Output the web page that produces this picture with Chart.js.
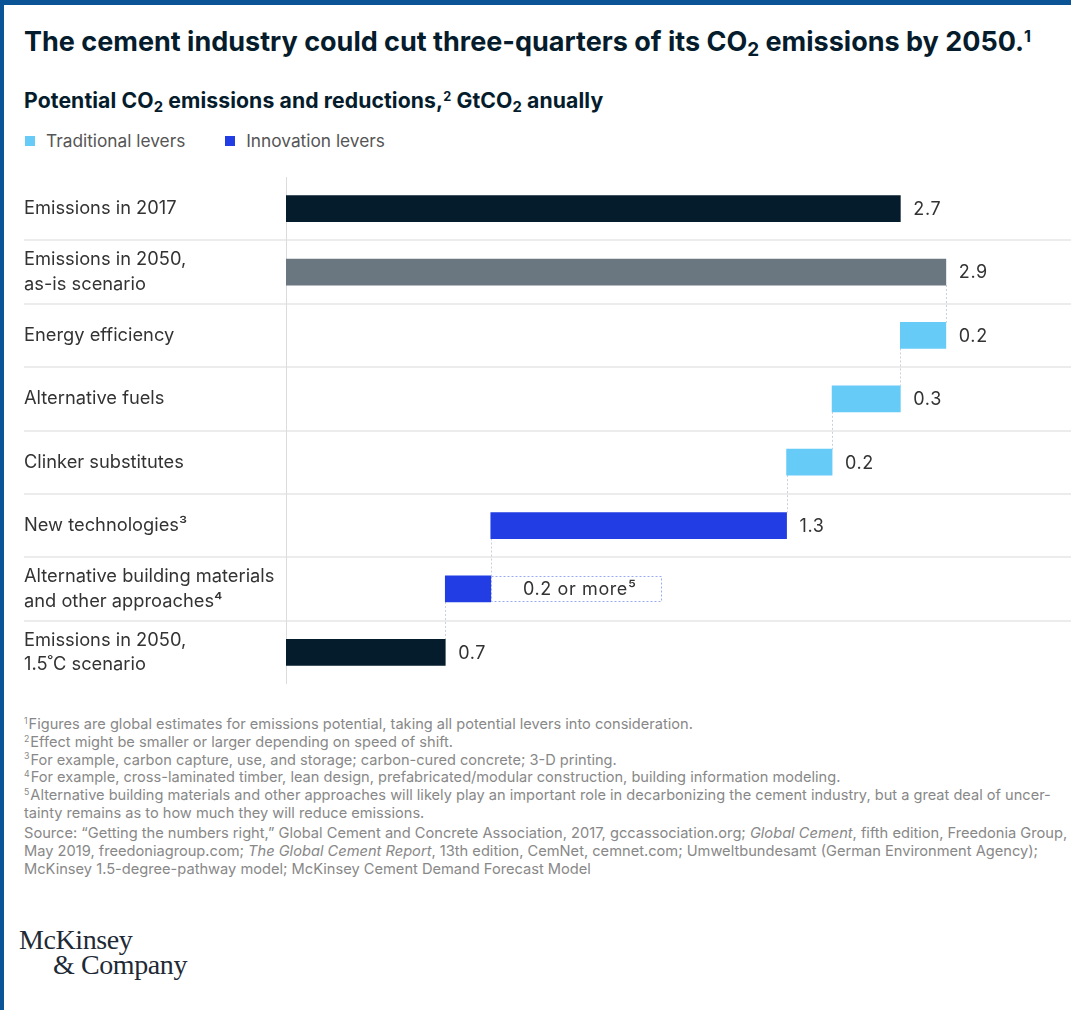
<!DOCTYPE html>
<html lang="en">
<head>
<meta charset="utf-8">
<script src="https://cdn.jsdelivr.net/npm/chart.js"></script>
<style>
  html, body { margin: 0; background: #fff; overflow: hidden; }
  .frame {
    position: relative; width: 1071px; height: 1010px; box-sizing: border-box;
    border-top: 5px solid #0b5596; border-left: 4px solid #0b5596;
    font-family: Inter, "Noto Sans", sans-serif; color: #051c2c;
  }
  .title { position: absolute; left: 20px; top: 20px; font-size: 27px; font-weight: 700; white-space: nowrap; }
  .subtitle { position: absolute; left: 20px; top: 82px; font-size: 21.2px; font-weight: 700; white-space: nowrap; letter-spacing: 0.1px; }
  sub { font-size: 0.7em; vertical-align: -0.25em; line-height: 0; }
  sup { font-size: 0.6em; vertical-align: 0.55em; line-height: 0; }
  .legend { position: absolute; left: 21px; top: 125px; font-size: 17.3px; color: #555; white-space: nowrap; }
  .legend span.sw { display: inline-block; width: 10px; height: 10px; margin-right: 11px; vertical-align: 1px; }
  .legend span.item { margin-right: 35px; }
  .chartbox { position: absolute; left: -4px; top: 160px; width: 1071px; height: 530px; }
  .notes { position: absolute; left: 20px; top: 711px; font-size: 14.6px; line-height: 17.8px; color: #888; white-space: nowrap; }
  .notes sup { font-size: 0.6em; vertical-align: 0.6em; margin-right: 1px; }
  .source { position: absolute; left: 20px; top: 819px; font-size: 14.65px; line-height: 18px; color: #888; white-space: nowrap; }
  .logo { position: absolute; left: 15px; top: 922px; font-family: "Liberation Serif", "DejaVu Serif", serif; font-size: 28px; line-height: 25px; color: #1e2a36; letter-spacing: -0.4px; }
</style>
</head>
<body>
<div class="frame">
  <div class="title">The cement industry could cut three-quarters of its CO<sub>2</sub> emissions by 2050.<sup>1</sup></div>
  <div class="subtitle">Potential CO<sub>2</sub> emissions and reductions,<sup>2</sup> GtCO<sub>2</sub> anually</div>
  <div class="legend">
    <span class="item"><span class="sw" style="background:#66cbf7"></span>Traditional levers</span>
    <span class="item"><span class="sw" style="background:#213de3"></span>Innovation levers</span>
  </div>
  <div class="chartbox"><canvas id="wf"></canvas></div>
  <div class="notes">
    <sup>1</sup>Figures are global estimates for emissions potential, taking all potential levers into consideration.<br>
    <sup>2</sup>Effect might be smaller or larger depending on speed of shift.<br>
    <sup>3</sup>For example, carbon capture, use, and storage; carbon-cured concrete; 3-D printing.<br>
    <sup>4</sup>For example, cross-laminated timber, lean design, prefabricated/modular construction, building information modeling.<br>
    <sup>5</sup>Alternative building materials and other approaches will likely play an important role in decarbonizing the cement industry, but a great deal of uncer-<br>
    tainty remains as to how much they will reduce emissions.
  </div>
  <div class="source">
    Source: “Getting the numbers right,” Global Cement and Concrete Association, 2017, gccassociation.org; <i>Global Cement</i>, fifth edition, Freedonia Group,<br>
    May 2019, freedoniagroup.com; <i>The Global Cement Report</i>, 13th edition, CemNet, cemnet.com; Umweltbundesamt (German Environment Agency);<br>
    McKinsey 1.5-degree-pathway model; McKinsey Cement Demand Forecast Model
  </div>
  <div class="logo">McKinsey<br><span style="margin-left:34px">&amp; Company</span></div>
</div>

<script>
  // rows of the waterfall, top to bottom
  const categories = [
    ['Emissions in 2017'],
    ['Emissions in 2050,', 'as-is scenario'],
    ['Energy efficiency'],
    ['Alternative fuels'],
    ['Clinker substitutes'],
    ['New technologies³'],
    ['Alternative building materials', 'and other approaches⁴'],
    ['Emissions in 2050,', '1.5˚C scenario']
  ];
  // GtCO2 per year; negative = reduction from the running total
  const values = [2.7, 2.9, -0.2, -0.3, -0.2, -1.3, -0.2, 0.7];
  const kinds = ['total', 'baseline', 'traditional', 'traditional', 'traditional', 'innovation', 'innovation', 'total'];
  const valueNotes = ['', '', '', '', '', '', ' or more⁵', ''];

  const COLORS = { total: '#051c2c', baseline: '#6a7780', traditional: '#66cbf7', innovation: '#213de3' };
  const FONT = 'Inter, "Noto Sans", sans-serif';

  // floating [start, end] ranges
  let running = 0;
  const ranges = values.map((v, i) => {
    if (kinds[i] === 'total') return [0, v];
    if (kinds[i] === 'baseline') { running = v; return [0, v]; }
    const r = [running + v, running];
    running += v;
    return r;
  });

  const waterfallDecor = {
    id: 'waterfallDecor',
    beforeDatasetsDraw(chart) {
      const { ctx, chartArea, scales: { x, y } } = chart;
      const bars = chart.getDatasetMeta(0).data;
      const half = (y.getPixelForValue(1) - y.getPixelForValue(0)) / 2;
      ctx.save();
      // row separators
      ctx.strokeStyle = '#ececec';
      ctx.lineWidth = 2;
      for (let i = 0; i < categories.length - 1; i++) {
        const yy = Math.round(y.getPixelForValue(i) + half);
        ctx.beginPath(); ctx.moveTo(24, yy); ctx.lineTo(chart.width, yy); ctx.stroke();
      }
      // zero line
      ctx.strokeStyle = '#dcdcdc';
      ctx.lineWidth = 1;
      const x0 = Math.round(x.getPixelForValue(0)) + 0.5;
      ctx.beginPath(); ctx.moveTo(x0, chartArea.top); ctx.lineTo(x0, chartArea.bottom); ctx.stroke();
      // dotted connectors from each step down to the next bar
      ctx.strokeStyle = '#c9cfdc';
      ctx.setLineDash([2, 2]);
      for (let i = 1; i < ranges.length - 1; i++) {
        const level = kinds[i] === 'baseline' ? ranges[i][1] : ranges[i][0];
        const xv = Math.round(x.getPixelForValue(level)) + 0.5;
        const b0 = bars[i], b1 = bars[i + 1];
        ctx.beginPath(); ctx.moveTo(xv, b0.y + b0.height / 2); ctx.lineTo(xv, b1.y - b1.height / 2); ctx.stroke();
      }
      ctx.restore();
    },
    afterDatasetsDraw(chart) {
      const { ctx, scales: { x } } = chart;
      const bars = chart.getDatasetMeta(0).data;
      ctx.save();
      ctx.font = '18px ' + FONT;
      ctx.letterSpacing = '0.6px';
      ctx.fillStyle = '#333';
      ctx.textBaseline = 'middle';
      values.forEach((v, i) => {
        const b = bars[i];
        const right = x.getPixelForValue(Math.max(...ranges[i]));
        const text = Math.abs(v).toFixed(1) + valueNotes[i];
        if (valueNotes[i]) {
          // open-ended estimate: dotted box extending past the bar
          const w = 170, h = b.height;
          ctx.save();
          ctx.strokeStyle = '#9aabf3';
          ctx.lineWidth = 1;
          ctx.setLineDash([2, 2]);
          ctx.strokeRect(Math.round(right) + 0.5, Math.round(b.y - h / 2) + 0.5, w, h - 1);
          ctx.restore();
          ctx.textAlign = 'center';
          ctx.fillText(text, right + w / 2 + 4, b.y + 1);
        } else {
          ctx.textAlign = 'left';
          ctx.fillText(text, right + 13, b.y + 1);
        }
      });
      ctx.restore();
    }
  };

  new Chart(document.getElementById('wf'), {
    type: 'bar',
    data: {
      labels: categories,
      datasets: [{
        data: ranges,
        backgroundColor: kinds.map(k => COLORS[k]),
        borderWidth: 0,
        borderSkipped: false,
        barThickness: 26
      }]
    },
    options: {
      indexAxis: 'y',
      responsive: true,
      maintainAspectRatio: false,
      animation: false,
      layout: { padding: { left: 24, top: 12, right: 0, bottom: 11 } },
      plugins: { legend: { display: false }, tooltip: { enabled: false } },
      scales: {
        x: { min: 0, max: 3.45, display: false },
        y: {
          grid: { display: false, drawTicks: false },
          border: { display: false },
          afterFit(scale) {
            scale.width = 262;
            scale.paddingTop = 0;
            scale.paddingBottom = 0;
          },
          ticks: {
            crossAlign: 'far',
            color: '#333',
            padding: 0,
            font: { family: FONT, size: 18.3, lineHeight: 1.33 }
          }
        }
      }
    },
    plugins: [waterfallDecor]
  });
</script>
</body>
</html>
